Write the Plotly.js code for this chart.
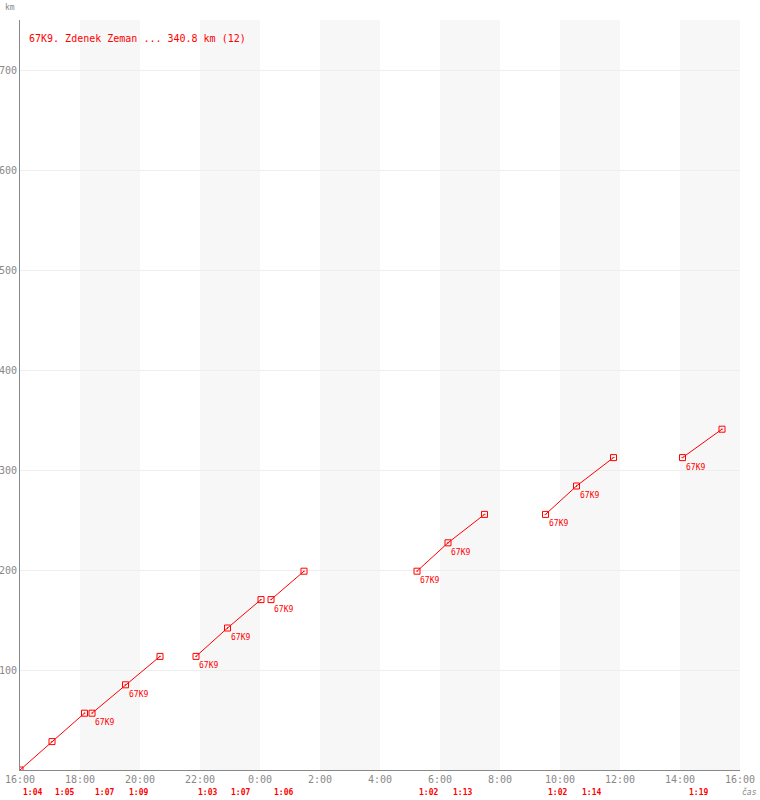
<!DOCTYPE html>
<html>
<head>
<meta charset="utf-8">
<script src="https://cdn.plot.ly/plotly-3.0.1.min.js"></script>
<style>html,body{margin:0;padding:0;background:#fff;}#chart{width:760px;height:800px;}</style>
</head>
<body>
<div id="chart"></div>
<script>
// Leg times (null = break between separate runs)
var times = [
  '2024-01-01 16:00','2024-01-01 17:04','2024-01-01 18:09', null,
  '2024-01-01 18:24','2024-01-01 19:31','2024-01-01 20:40', null,
  '2024-01-01 21:52','2024-01-01 22:55','2024-01-02 00:02', null,
  '2024-01-02 00:22','2024-01-02 01:28', null,
  '2024-01-02 05:14','2024-01-02 06:16','2024-01-02 07:29', null,
  '2024-01-02 09:31','2024-01-02 10:33','2024-01-02 11:47', null,
  '2024-01-02 14:05','2024-01-02 15:24'
];
var km = [
  0, 28.4, 56.8, null,
  56.8, 85.2, 113.6, null,
  113.6, 142.0, 170.4, null,
  170.4, 198.8, null,
  198.8, 227.2, 255.6, null,
  255.6, 284.0, 312.4, null,
  312.4, 340.8
];
var pointLabels = [
  '', '', '', null,
  '67K9', '67K9', '', null,
  '67K9', '67K9', '', null,
  '67K9', '', null,
  '67K9', '67K9', '', null,
  '67K9', '67K9', '', null,
  '67K9', ''
];
// per-leg durations, leg start and end
var legStart = ['2024-01-01 16:00','2024-01-01 17:04','2024-01-01 18:24','2024-01-01 19:31',
  '2024-01-01 21:52','2024-01-01 22:55','2024-01-02 00:22','2024-01-02 05:14','2024-01-02 06:16',
  '2024-01-02 09:31','2024-01-02 10:33','2024-01-02 14:05'];
var legEnd = ['2024-01-01 17:04','2024-01-01 18:09','2024-01-01 19:31','2024-01-01 20:40',
  '2024-01-01 22:55','2024-01-02 00:02','2024-01-02 01:28','2024-01-02 06:16','2024-01-02 07:29',
  '2024-01-02 10:33','2024-01-02 11:47','2024-01-02 15:24'];
var legDur = ['1:04','1:05','1:07','1:09','1:03','1:07','1:06','1:02','1:13','1:02','1:14','1:19'];
var bandStart = ['2024-01-01 18:00','2024-01-01 22:00','2024-01-02 02:00','2024-01-02 06:00','2024-01-02 10:00','2024-01-02 14:00'];
var bandEnd   = ['2024-01-01 20:00','2024-01-02 00:00','2024-01-02 04:00','2024-01-02 08:00','2024-01-02 12:00','2024-01-02 16:00'];
var yTicks = [100,200,300,400,500,600,700];
var titleText = '67K9. Zdenek Zeman ... 340.8 km (12)';

var mono = 'DejaVu Sans Mono, Liberation Mono, monospace';
var red = '#ff0000';
var grey = '#888888';

function toMs(s){ return new Date(s.replace(' ','T')+':00Z').getTime(); }
function fromMs(ms){ var d = new Date(ms); return d.toISOString().slice(0,19).replace('T',' '); }

var shapes = bandStart.map(function(s,i){
  return {type:'rect', xref:'x', yref:'paper', x0:s, x1:bandEnd[i], y0:0, y1:1,
    fillcolor:'#f7f7f7', line:{width:0}, layer:'below'};
});

var annotations = [];
legDur.forEach(function(d,i){
  var mid = fromMs((toMs(legStart[i])+toMs(legEnd[i]))/2);
  annotations.push({x:mid, xref:'x', y:0, yref:'paper', yshift:-22, xshift:-4,
    text:'<b>'+d+'</b>', showarrow:false, xanchor:'center', yanchor:'middle',
    font:{family:mono, size:8, color:red}});
});
for (var i=0;i<times.length;i++){
  if (pointLabels[i]) {
    annotations.push({x:times[i], xref:'x', y:km[i], yref:'y', xshift:1, yshift:-3,
      text:pointLabels[i], showarrow:false, xanchor:'left', yanchor:'top',
      font:{family:mono, size:8, color:red}});
  }
}
annotations.push({x:0, xref:'paper', xshift:7, y:1, yref:'paper', yshift:-18,
  text:titleText, showarrow:false, xanchor:'left', yanchor:'middle',
  font:{family:mono, size:10, color:red}});
annotations.push({x:0, xref:'paper', xshift:-17, y:1, yref:'paper', yshift:13,
  text:'km', showarrow:false, xanchor:'left', yanchor:'middle',
  font:{family:mono, size:8, color:grey}});
annotations.push({x:1, xref:'paper', xshift:0, y:0, yref:'paper', yshift:-22,
  text:'<i>čas</i>', showarrow:false, xanchor:'left', yanchor:'middle',
  font:{family:mono, size:8, color:grey}});

var trace = {
  x: times, y: km, type:'scatter', mode:'lines+markers',
  connectgaps:false,
  line:{color:red, width:1},
  marker:{symbol:'square-open-dot', size:6, color:red},
  hoverinfo:'skip'
};

var layout = {
  width:760, height:800,
  margin:{l:20, r:20, t:20, b:30, pad:0},
  paper_bgcolor:'#ffffff', plot_bgcolor:'#ffffff',
  showlegend:false,
  xaxis:{type:'date', range:['2024-01-01 16:00','2024-01-02 16:00'],
    tickmode:'linear', tick0:'2024-01-01 16:00', dtick:7200000,
    tickformat:'%-H:%M', showgrid:false, zeroline:false,
    showline:true, linecolor:grey, linewidth:1, ticks:'',
    tickfont:{family:mono, size:10, color:grey}, fixedrange:true},
  yaxis:{range:[0,750], tickvals:yTicks, ticktext:yTicks.map(String),
    showgrid:true, gridcolor:'#eeeeee', gridwidth:1, zeroline:false,
    showline:true, linecolor:grey, linewidth:1, ticks:'',
    tickfont:{family:mono, size:10, color:grey}, fixedrange:true},
  shapes:shapes,
  annotations:annotations
};

Plotly.newPlot('chart', [trace], layout, {displayModeBar:false, staticPlot:true});
</script>
</body>
</html>
